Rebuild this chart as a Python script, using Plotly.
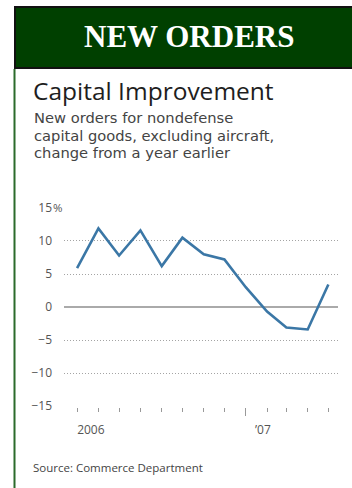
import plotly.graph_objects as go

# ---- data ----
months = ["2006-05-01", "2006-06-01", "2006-07-01", "2006-08-01", "2006-09-01",
          "2006-10-01", "2006-11-01", "2006-12-01", "2007-01-01", "2007-02-01",
          "2007-03-01", "2007-04-01", "2007-05-01"]
change_pct = [5.9, 11.9, 7.8, 11.6, 6.2, 10.5, 8.0, 7.2, 3.0, -0.7, -3.1, -3.4, 3.4]

y_tickvals = [-15, -10, -5, 0, 5, 10, 15]
y_ticktext = ["\u221215", "\u221210", "\u22125", "0", "5", "10", "15"]
year_tick_dates = ["2006-05-21", "2007-01-26"]
year_tick_text = ["2006", "\u201907"]
year_start = ["2007-01-01"]

subtitle_lines = ["New orders for nondefense",
                  "capital goods, excluding aircraft,",
                  "change from a year earlier"]

W, H = 352, 488
L, R, T, B = 64, 338, 207, 407


def px(x):
    return (x - L) / (R - L)


def py(y):
    return (B - y) / (B - T)


fig = go.Figure()
fig.add_trace(go.Scatter(x=months, y=change_pct, mode="lines",
                         line=dict(color="#3b77a6", width=2.6),
                         hoverinfo="skip", showlegend=False))
# helper traces so overlay axes are drawn
fig.add_trace(go.Scatter(x=months, y=change_pct, xaxis="x2", mode="lines",
                         line=dict(width=0), opacity=0, hoverinfo="skip", showlegend=False))
fig.add_trace(go.Scatter(x=months, y=change_pct, xaxis="x3", mode="lines",
                         line=dict(width=0), opacity=0, hoverinfo="skip", showlegend=False))

xr = ["2006-04-12", "2007-05-15"]
tickfont = dict(family="Open Sans", size=12, color="#555")

fig.update_layout(
    width=W, height=H,
    margin=dict(l=L, r=W - R, t=T, b=H - B, pad=0),
    paper_bgcolor="white", plot_bgcolor="white",
    xaxis=dict(type="date", range=xr, tickvals=months, showticklabels=False,
               ticks="outside", ticklen=4, tickcolor="#999", tickwidth=1,
               showgrid=False, zeroline=False, showline=False, fixedrange=True),
    xaxis2=dict(type="date", range=xr, overlaying="x", anchor="y", side="bottom",
                tickvals=year_start, showticklabels=False,
                ticks="outside", ticklen=8, tickcolor="#999", tickwidth=1,
                showgrid=False, zeroline=False, showline=False),
    xaxis3=dict(type="date", range=xr, overlaying="x", anchor="y", side="bottom",
                tickvals=year_tick_dates, ticktext=year_tick_text, ticks="",
                ticklabelstandoff=14, tickfont=tickfont,
                showgrid=False, zeroline=False, showline=False),
    yaxis=dict(range=[-15.15, 15.15], tickvals=y_tickvals, ticktext=y_ticktext,
               tickfont=tickfont, ticks="", ticklabelstandoff=11,
               showgrid=True, gridcolor="#a4a4a4", griddash="1px,2px", gridwidth=1,
               zeroline=True, zerolinecolor="#aaaaaa", zerolinewidth=2,
               showline=False, fixedrange=True),
)

shapes = [
    dict(type="rect", xref="paper", yref="paper",
         x0=px(15), x1=px(354), y0=py(7), y1=py(68),
         fillcolor="#004000", line=dict(color="#111", width=2), layer="above"),
    dict(type="line", xref="paper", yref="paper",
         x0=px(14.5), x1=px(14.5), y0=py(69), y1=py(490),
         line=dict(color="#2b6b2b", width=2)),
]
fig.update_layout(shapes=shapes)

ann = [
    dict(text="<b>NEW ORDERS</b>", x=px(189), y=py(37), xanchor="center", yanchor="middle",
         font=dict(family="Liberation Serif", size=31, color="white")),
    dict(text="Capital Improvement", x=px(31), y=py(91), xanchor="left", yanchor="middle",
         font=dict(family="Open Sans", size=24.5, color="#1e1e1e", weight=500)),
    dict(text="%", x=px(50.5), y=15, yref="y", xanchor="left", yanchor="middle",
         font=dict(family="Open Sans", size=11.5, color="#555")),
    dict(text="Source: Commerce Department", x=px(31), y=py(467), xanchor="left", yanchor="middle",
         font=dict(family="Open Sans", size=11.5, color="#444")),
]
for i, line in enumerate(subtitle_lines):
    ann.append(dict(text=line, x=px(32), y=py(117.8 + 17.3 * i), xanchor="left", yanchor="middle",
                    font=dict(family="DejaVu Sans", size=14.7, color="#444")))
for a in ann:
    a.setdefault("xref", "paper")
    a.setdefault("yref", "paper")
    a["showarrow"] = False
fig.update_layout(annotations=ann)

fig.write_html("out.html")
